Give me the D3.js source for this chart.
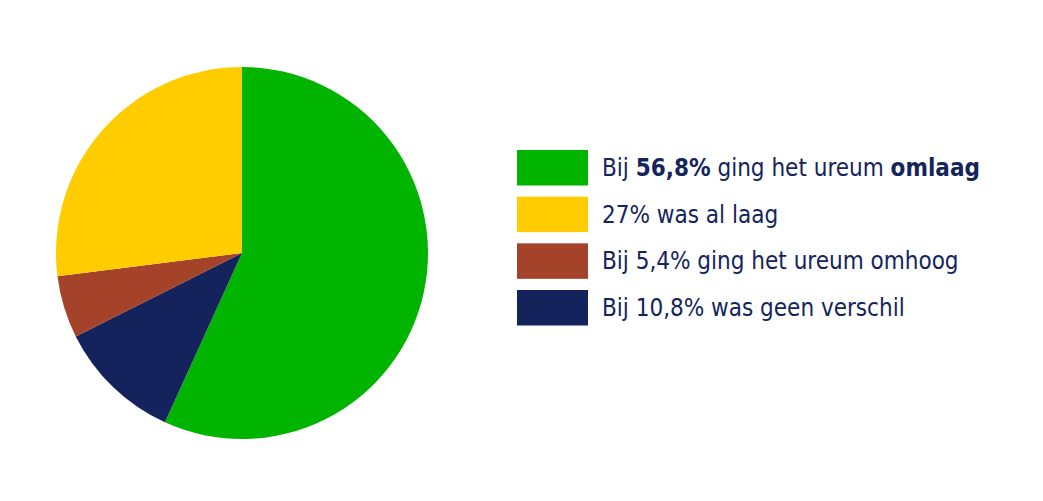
<!DOCTYPE html>
<html>
<head>
<meta charset="utf-8">
<script src="https://cdn.jsdelivr.net/npm/d3@7"></script>
<style>
  body { margin: 0; background: #fff; }
  svg text { font-family: "DejaVu Sans Condensed", "Liberation Sans Narrow", sans-serif; fill: #14245c; }
</style>
</head>
<body>
<div class="chart"></div>
<script>
// slices, in the order they run clockwise from 12 o'clock
const categories = ["omlaag", "geen verschil", "omhoog", "al laag"];
const values = [56.8, 10.8, 5.4, 27];
const colors = ["#00b400", "#14235c", "#a5432a", "#ffcc00"];

// legend rows (top to bottom) and their text, bold parts flagged
const legendOrder = ["omlaag", "al laag", "omhoog", "geen verschil"];
const legendLabels = [
  [["Bij ", false], ["56,8%", true], [" ging het ureum ", false], ["omlaag", true]],
  [["27% was al laag", false]],
  [["Bij 5,4% ging het ureum omhoog", false]],
  [["Bij 10,8% was geen verschil", false]]
];

const width = 1043, height = 501;
const cx = 242, cy = 253, radius = 186;

const svg = d3.select(".chart").append("svg")
  .attr("width", width)
  .attr("height", height);

const data = categories.map((c, i) => ({name: c, value: values[i]}));
const color = d3.scaleOrdinal().domain(categories).range(colors);

const pie = d3.pie().sort(null).value(d => d.value);
const arc = d3.arc().innerRadius(0).outerRadius(radius);

svg.append("g")
  .attr("transform", `translate(${cx},${cy})`)
  .selectAll("path")
  .data(pie(data))
  .enter().append("path")
  .attr("d", arc)
  .attr("fill", d => color(d.data.name));

// legend
const rowY = d3.scalePoint().domain(legendOrder).range([150, 290]);
const legend = svg.append("g");

const rows = legend.selectAll("g.row")
  .data(legendOrder)
  .enter().append("g")
  .attr("class", "row")
  .attr("transform", d => `translate(517,${rowY(d)})`);

rows.append("rect")
  .attr("width", 71)
  .attr("height", 35.5)
  .attr("fill", d => color(d));

rows.append("text")
  .attr("x", 85)
  .attr("y", 26)
  .attr("font-size", "24px")
  .each(function(d, i) {
    d3.select(this).selectAll("tspan")
      .data(legendLabels[i])
      .enter().append("tspan")
      .attr("font-weight", p => p[1] ? "bold" : "normal")
      .text(p => p[0]);
  });
</script>
</body>
</html>
